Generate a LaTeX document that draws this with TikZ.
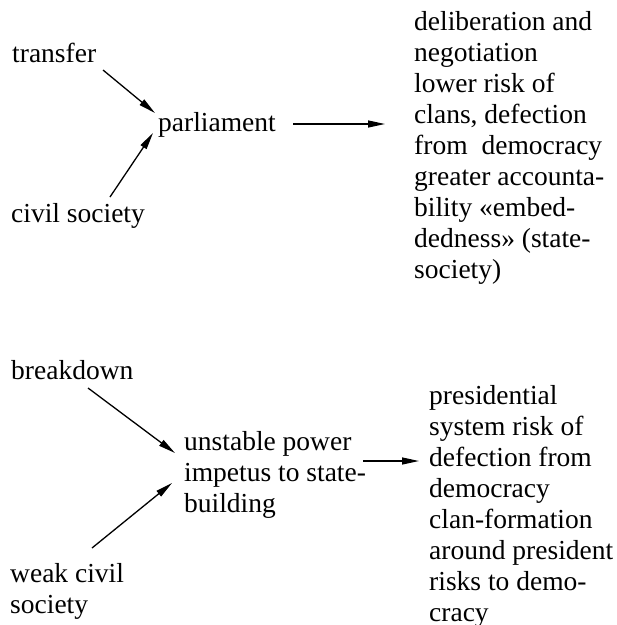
\documentclass[tikz,border=0pt]{standalone}
\usepackage{fontspec}
\setmainfont{Liberation Serif}
\usetikzlibrary{arrows.meta,calc}
\tikzset{
  lbl/.style={anchor=base west, inner sep=0pt, font=\fontsize{27.5}{31}\selectfont},
  arr/.style={line width=1.3pt, -{Triangle[length=17pt,width=7pt]}}
}
\begin{document}
\begin{tikzpicture}[x=1pt,y=-1pt]
\useasboundingbox[fill=white] (0,0) rectangle (617,625);
% upper part
\node[lbl] (transfer) at (12,62) {transfer};
\node[lbl] (civil) at (11,222) {civil society};
\node[lbl] (parl) at (158,131) {parliament};
\node[lbl] (out1) at (414,30) {\parbox[t]{260pt}{deliberation and\\
negotiation\\
lower risk of\\
clans, defection\\
\makebox[188pt][s]{from democracy}\\
greater accounta-\\
bility «embed-\\
dedness» (state-\\
society)}};
\draw[arr] ($(transfer.base west)+(91,8)$) -- ($(parl.base west)+(-3,-18)$);
\draw[arr] ($(civil.base west)+(99,-25)$) -- ($(parl.base west)+(-5,2)$);
\draw[arr] ($(parl.base west)+(135,-7)$) -- ($(out1.base west)+(-29,94)$);
% lower part
\node[lbl] (breakdown) at (11,379) {breakdown};
\node[lbl] (weak) at (10,582) {\parbox[t]{200pt}{weak civil\\society}};
\node[lbl] (unstable) at (184,450) {\parbox[t]{220pt}{unstable power\\impetus to state-\\building}};
\node[lbl] (out2) at (429,404) {\parbox[t]{260pt}{presidential\\
system risk of\\
defection from\\
democracy\\
clan-formation\\
around president\\
risks to demo-\\
cracy}};
\draw[arr] ($(breakdown.base west)+(77,9)$) -- ($(unstable.base west)+(-9,3)$);
\draw[arr] ($(weak.base west)+(82,-34)$) -- ($(unstable.base west)+(-12,33)$);
\draw[arr] ($(unstable.base west)+(179,11)$) -- ($(out2.base west)+(-10,57)$);
\end{tikzpicture}
\end{document}
